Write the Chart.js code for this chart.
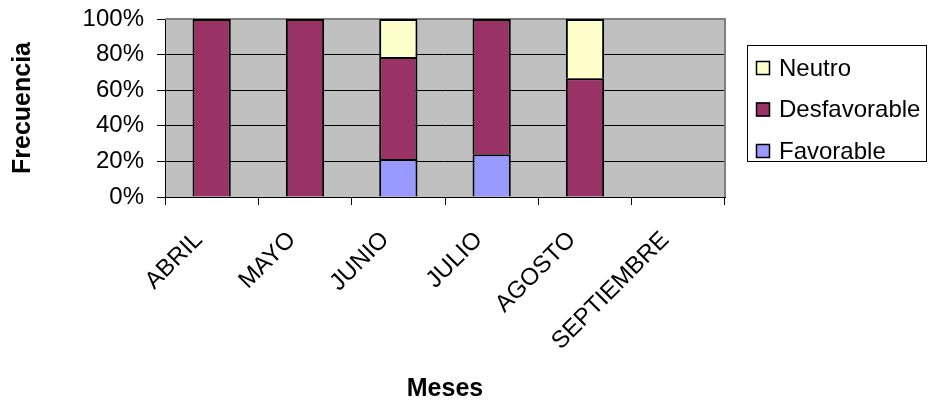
<!DOCTYPE html>
<html>
<head>
<meta charset="utf-8">
<script src="https://cdn.jsdelivr.net/npm/chart.js@4.4.1/dist/chart.umd.min.js"></script>
<style>
    html, body { margin: 0; padding: 0; background: #ffffff; }
    #wrap { width: 928px; height: 406px; }
</style>
</head>
<body>
<div id="wrap"><canvas id="chart1"></canvas></div>
<script>
// Categories (months) and percentage values per series
const meses = ['ABRIL', 'MAYO', 'JUNIO', 'JULIO', 'AGOSTO', 'SEPTIEMBRE'];
const favorable = [0, 0, 21.4, 24, 0, null];
const desfavorable = [100, 100, 57.2, 76, 66.7, null];
const neutro = [0, 0, 21.4, 0, 33.3, null];
const yTicks = [0, 20, 40, 60, 80, 100];

const fontFamily = "'Liberation Sans', Arial, sans-serif";

// Gray plot background + gray right/top frame (Excel style)
const plotFrame = {
    id: 'plotFrame',
    beforeDraw(chart) {
        const { ctx, chartArea: a } = chart;
        ctx.save();
        ctx.fillStyle = '#C0C0C0';
        ctx.fillRect(a.left, a.top, a.right - a.left, a.bottom - a.top);
        ctx.restore();
    },
    beforeDatasetsDraw(chart) {
        const { ctx, chartArea: a } = chart;
        ctx.save();
        ctx.strokeStyle = '#808080';
        ctx.lineWidth = 2;
        ctx.beginPath();
        ctx.moveTo(a.left, a.top);
        ctx.lineTo(a.right, a.top);
        ctx.lineTo(a.right, a.bottom);
        ctx.stroke();
        ctx.restore();
    }
};

// Legend in a framed box to the right, series in reverse order
const boxLegend = {
    id: 'boxLegend',
    afterDraw(chart) {
        const { ctx } = chart;
        const items = chart.data.datasets.slice().reverse();
        ctx.save();
        ctx.fillStyle = '#ffffff';
        ctx.fillRect(747, 45, 180, 117);
        ctx.strokeStyle = '#000000';
        ctx.lineWidth = 1;
        ctx.strokeRect(747.5, 45.5, 179, 116);
        ctx.font = '24px ' + fontFamily;
        ctx.textBaseline = 'middle';
        items.forEach((ds, i) => {
            const cy = 68 + i * 41.5;
            ctx.fillStyle = ds.backgroundColor;
            ctx.fillRect(756, cy - 7, 14, 14);
            ctx.strokeStyle = '#000000';
            ctx.lineWidth = 1.5;
            ctx.strokeRect(756.5, cy - 6.5, 13, 13);
            ctx.fillStyle = '#000000';
            ctx.fillText(ds.label, 779, cy + 1);
        });
        ctx.restore();
    }
};

const ctx = document.getElementById('chart1').getContext('2d');

const barStyle = {
    borderColor: '#000000',
    borderWidth: 2,
    barPercentage: 0.41,
    categoryPercentage: 1.0
};

const chart = new Chart(ctx, {
    type: 'bar',
    data: {
        labels: meses,
        datasets: [
            { label: 'Favorable', data: favorable, backgroundColor: '#9999FF', ...barStyle },
            { label: 'Desfavorable', data: desfavorable, backgroundColor: '#993366', ...barStyle },
            { label: 'Neutro', data: neutro, backgroundColor: '#FFFFCC', ...barStyle }
        ]
    },
    options: {
        responsive: true,
        maintainAspectRatio: false,
        animation: false,
        layout: { padding: { top: 19, right: 203, left: 0, bottom: 0 } },
        plugins: {
            legend: { display: false },
            tooltip: { enabled: false }
        },
        scales: {
            x: {
                stacked: true,
                afterFit: (scale) => {
                    scale.height = 209;
                    scale.paddingTop = 0;
                    scale.paddingBottom = 0;
                },
                grid: {
                    offset: true,
                    drawOnChartArea: false,
                    tickLength: 8,
                    color: '#000000'
                },
                border: { color: '#000000', width: 1 },
                ticks: {
                    autoSkip: false,
                    minRotation: 45,
                    maxRotation: 45,
                    padding: 21,
                    labelOffset: -13,
                    color: '#000000',
                    font: { family: fontFamily, size: 24 }
                },
                title: {
                    display: true,
                    text: 'Meses',
                    color: '#000000',
                    padding: { top: 0, bottom: 2 },
                    font: { family: fontFamily, size: 25, weight: 'bold' }
                }
            },
            y: {
                stacked: true,
                min: 0,
                max: 100,
                afterFit: (scale) => {
                    scale.width = 165;
                    scale.paddingTop = 0;
                    scale.paddingBottom = 0;
                },
                afterBuildTicks: (scale) => { scale.ticks = yTicks.map(v => ({ value: v })); },
                grid: {
                    tickLength: 8,
                    color: '#000000'
                },
                border: { color: '#000000', width: 1 },
                ticks: {
                    padding: 13,
                    color: '#000000',
                    font: { family: fontFamily, size: 24 },
                    callback: (v) => v + '%'
                },
                title: {
                    display: true,
                    text: 'Frecuencia',
                    color: '#000000',
                    padding: { top: 8, bottom: 0 },
                    font: { family: fontFamily, size: 25, weight: 'bold' }
                }
            }
        }
    },
    plugins: [plotFrame, boxLegend]
});
</script>
</body>
</html>
